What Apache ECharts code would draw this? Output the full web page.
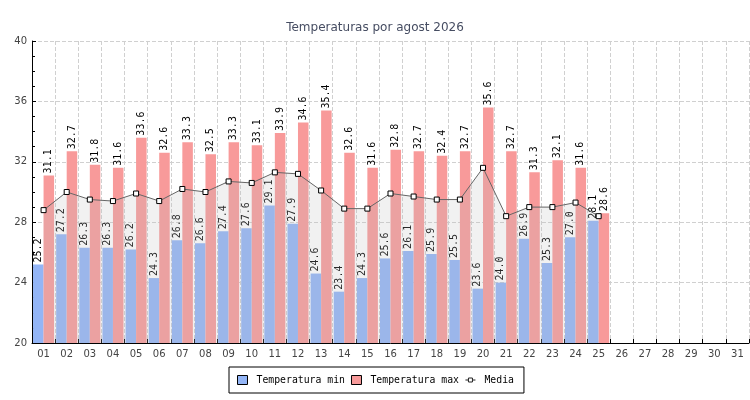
<!DOCTYPE html>
<html>
<head>
<meta charset="utf-8">
<script src="https://cdn.jsdelivr.net/npm/echarts@6/dist/echarts.min.js"></script>
<style>
html,body{margin:0;padding:0;background:#fff;}
#chart{width:750px;height:400px;}
</style>
</head>
<body>
<div id="chart"></div>
<script>
const days = ['01','02','03','04','05','06','07','08','09','10','11','12','13','14','15','16','17','18','19','20','21','22','23','24','25','26','27','28','29','30','31'];
const tempMin = [25.2, 27.2, 26.3, 26.3, 26.2, 24.3, 26.8, 26.6, 27.4, 27.6, 29.1, 27.9, 24.6, 23.4, 24.3, 25.6, 26.1, 25.9, 25.5, 23.6, 24.0, 26.9, 25.3, 27.0, 28.1];
const tempMax = [31.1, 32.7, 31.8, 31.6, 33.6, 32.6, 33.3, 32.5, 33.3, 33.1, 33.9, 34.6, 35.4, 32.6, 31.6, 32.8, 32.7, 32.4, 32.7, 35.6, 32.7, 31.3, 32.1, 31.6, 28.6];
const media = [28.8, 30.0, 29.5, 29.4, 29.9, 29.4, 30.2, 30.0, 30.7, 30.6, 31.3, 31.2, 30.1, 28.9, 28.9, 29.9, 29.7, 29.5, 29.5, 31.6, 28.4, 29.0, 29.0, 29.3, 28.4];
const titleText = 'Temperaturas por agost 2026';

const mono = 'DejaVu Sans Mono';
const barLabel = {
  show: true,
  position: 'top',
  rotate: 90,
  align: 'left',
  verticalAlign: 'middle',
  distance: 2,
  fontFamily: mono,
  fontSize: 10,
  color: '#000',
  formatter: p => p.value.toFixed(1)
};

const chart = echarts.init(document.getElementById('chart'), null, {renderer: 'canvas'});
chart.setOption({
  animation: false,
  backgroundColor: '#fff',
  title: {
    text: titleText,
    left: 'center',
    top: 17,
    textStyle: {fontFamily: 'DejaVu Sans', fontSize: 12, fontWeight: 'normal', color: '#464d62'}
  },
  legend: {
    left: 229,
    top: 367,
    padding: [8, 10, 8, 8],
    borderColor: '#000',
    borderWidth: 1,
    itemGap: 6,
    itemWidth: 10,
    itemHeight: 9,
    symbolKeepAspect: true,
    textStyle: {fontFamily: mono, fontSize: 9.8, color: '#000', padding: [0, 0, 0, 4]},
    data: [
      {name: 'Temperatura min', icon: 'rect', itemStyle: {borderColor: '#000', borderWidth: 1}},
      {name: 'Temperatura max', icon: 'rect', itemStyle: {borderColor: '#000', borderWidth: 1}},
      {name: 'Media', icon: 'path://M0,2 L3,2 M7,2 L10,2 M3,0 L7,0 L7,4 L3,4 Z',
       itemStyle: {color: '#fff', borderColor: '#222', borderWidth: 1}}
    ]
  },
  grid: {left: 32, right: 1, top: 41, bottom: 57},
  xAxis: {
    type: 'category',
    data: days,
    boundaryGap: true,
    axisLine: {lineStyle: {color: '#000', width: 1}},
    axisTick: {show: true, inside: true, length: 4, interval: 0, lineStyle: {color: '#000'}},
    axisLabel: {interval: 0, fontFamily: 'DejaVu Sans', fontSize: 10, color: '#444', margin: 6},
    splitLine: {show: true, interval: 0, lineStyle: {type: 'dashed', color: '#d0d0d0'}}
  },
  yAxis: {
    type: 'value',
    min: 20,
    max: 40,
    interval: 4,
    axisLine: {show: true, lineStyle: {color: '#000', width: 1}},
    axisTick: {show: true, inside: true, length: 4, lineStyle: {color: '#000'}},
    minorTick: {show: true, splitNumber: 4, length: 3, lineStyle: {color: '#000'}},
    axisLabel: {fontFamily: 'DejaVu Sans', fontSize: 10, color: '#444', margin: 5},
    splitLine: {show: true, lineStyle: {type: 'dashed', color: '#d0d0d0'}}
  },
  series: [
    {
      name: 'Temperatura min',
      type: 'bar',
      data: tempMin,
      barGap: '0%',
      barCategoryGap: '9%',
      itemStyle: {color: '#93b5f6'},
      label: barLabel,
      z: 2
    },
    {
      name: 'Temperatura max',
      type: 'bar',
      data: tempMax,
      itemStyle: {color: '#f89a9a'},
      label: barLabel,
      z: 2
    },
    {
      name: 'Media',
      type: 'line',
      data: media,
      symbol: 'rect',
      symbolSize: 5,
      showAllSymbol: true,
      lineStyle: {color: '#666', width: 1},
      itemStyle: {color: '#fff', borderColor: '#000', borderWidth: 1},
      areaStyle: {color: 'rgba(188,188,188,0.3)', origin: 'start'},
      z: 3
    }
  ]
});
</script>
</body>
</html>
